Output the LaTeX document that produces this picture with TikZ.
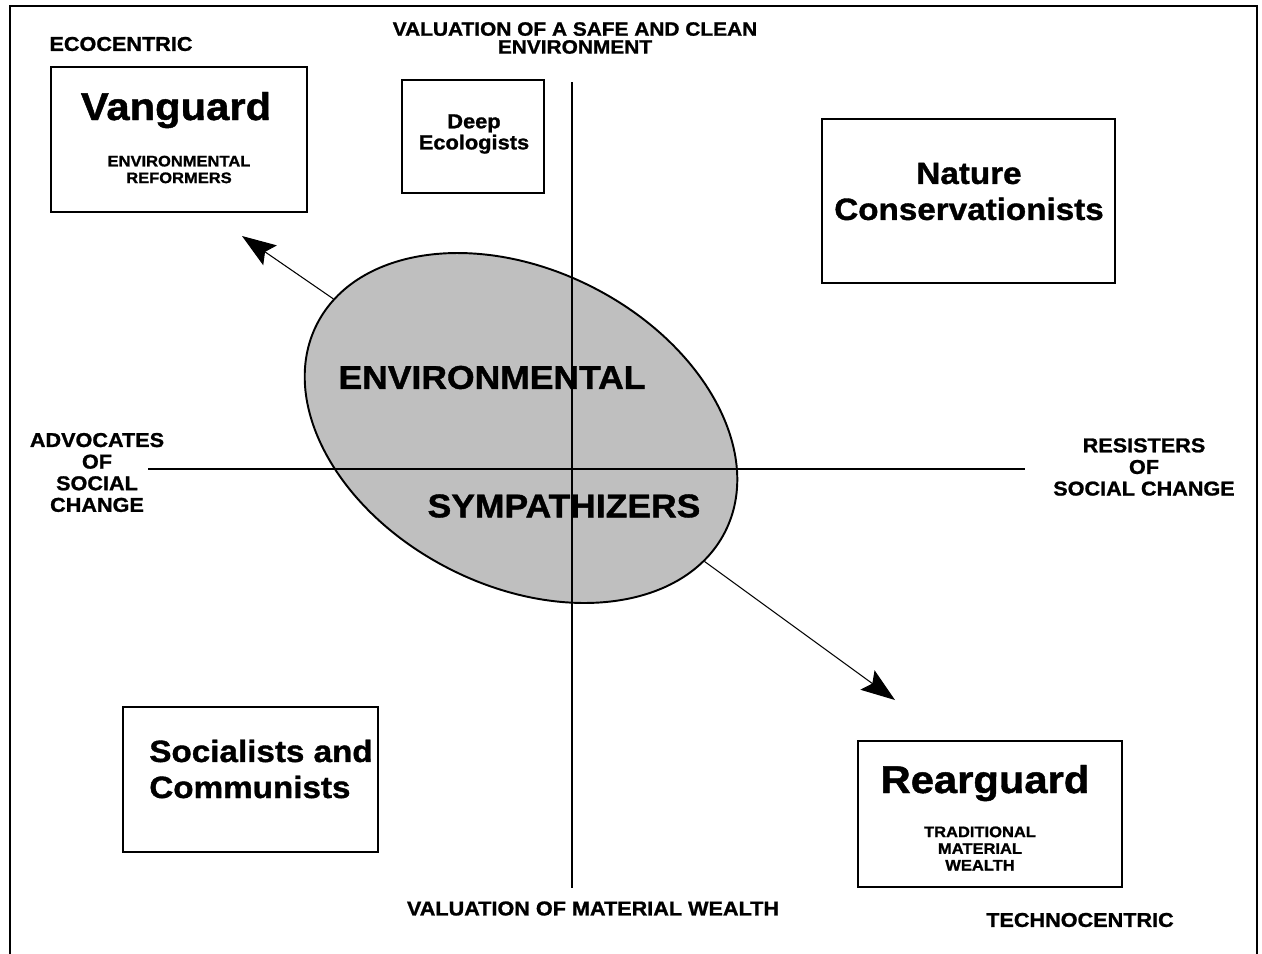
\documentclass[tikz,border=0pt]{standalone}
\usepackage{fontspec}
\setmainfont[FakeStretch=1.08, BoldFeatures={FakeBold=1.2}]{Liberation Sans}
\usetikzlibrary{arrows.meta,shapes.geometric}

\begin{document}
\begin{tikzpicture}[x=0.02cm, y=-0.02cm]
    \tikzset{frame/.style = {line width=1.5pt}}
    \tikzset{group/.style = {shape=rectangle, draw, line width=1.1pt, inner sep=0}}
    \tikzset{axis/.style = {line width=1.1pt}}
    \tikzset{drift/.style = {line width=0.6pt, -{Stealth[length=6.8mm, width=4.8mm, inset=1.2mm]}}}
    \tikzset{axislabel/.style = {font=\fontsize{11.4}{12.3}\selectfont\bfseries, align=center, inner sep=0}}
    \tikzset{groupname/.style = {font=\fontsize{22}{24}\selectfont\bfseries, inner sep=0}}
    \tikzset{groupnote/.style = {font=\fontsize{8.7}{9.5}\selectfont\bfseries, align=center, inner sep=0}}
    \tikzset{grouptext/.style = {font=\fontsize{17.5}{20.5}\selectfont\bfseries, align=center, inner sep=0}}
    \tikzset{bigword/.style = {font=\fontsize{18.7}{20}\selectfont\bfseries, inner sep=0}}
    \useasboundingbox (0,0) rectangle (1262,954);
    % frame
    \draw[frame] (10,954) -- (10,6) -- (1257,6) -- (1257,954);
    % sympathizers
    \node[shape=ellipse, draw, line width=1.1pt, fill=black!25, minimum width=9.16cm, minimum height=6.32cm, inner sep=0, rotate=-27] (symp) at (521,428) {};
    % axes
    \coordinate (axtop) at (572,82);
    \coordinate (axbot) at (572,888);
    \coordinate (axleft) at (148,469);
    \coordinate (axright) at (1025,469);
    \draw[axis] (axtop) -- (axbot);
    \draw[axis] (axleft) -- (axright);
    % groups
    \node[group, minimum width=5.12cm, minimum height=2.90cm] (vanguard) at (179,139.5) {};
    \node[group, minimum width=2.84cm, minimum height=2.26cm] (deep) at (473,136.5) {};
    \node[group, minimum width=5.86cm, minimum height=3.28cm] (nature) at (968.5,201) {};
    \node[group, minimum width=5.10cm, minimum height=2.90cm] (socialists) at (250.5,779.5) {};
    \node[group, minimum width=5.28cm, minimum height=2.92cm] (rearguard) at (990,814) {};
    % group texts
    \node[groupname, anchor=base] (vanguardname) at (176,120) {Vanguard};
    \node[groupnote] (vanguardnote) at (179,169.5) {ENVIRONMENTAL\\REFORMERS};
    \node[font=\fontsize{11.5}{12}\selectfont\bfseries, align=center, inner sep=0] (deeptext) at (474,134) {Deep\\Ecologists};
    \node[grouptext] (naturetext) at (969,191.5) {Nature\\Conservationists};
    \node[grouptext, align=left, anchor=west] (socialiststext) at (149,769) {Socialists and\\Communists};
    \node[groupname, anchor=base] (rearguardname) at (985,793) {Rearguard};
    \node[groupnote] (rearguardnote) at (980,848.5) {TRADITIONAL\\MATERIAL\\WEALTH};
    \node[bigword] (envword) at (492,377.5) {ENVIRONMENTAL};
    \node[bigword] (sympword) at (564,506) {SYMPATHIZERS};
    % axis labels
    \node[axislabel] (eco) at (121,44) {ECOCENTRIC};
    \node[axislabel, font=\fontsize{11}{10.2}\selectfont\bfseries] (safe) at (575,38) {VALUATION OF A SAFE AND CLEAN\\ENVIRONMENT};
    \node[axislabel] (advocates) at (97,472.5) {ADVOCATES\\OF\\SOCIAL\\CHANGE};
    \node[axislabel] (resisters) at (1144,467) {RESISTERS\\OF\\SOCIAL CHANGE};
    \node[axislabel] (wealth) at (593,908.5) {VALUATION OF MATERIAL WEALTH};
    \node[axislabel] (techno) at (1080,920) {TECHNOCENTRIC};
    % arrows
    \coordinate (vtip) at (242,236);
    \coordinate (rtip) at (895,700);
    \draw[drift] (symp) -- (vtip);
    \draw[drift] (symp) -- (rtip);
\end{tikzpicture}
\end{document}
